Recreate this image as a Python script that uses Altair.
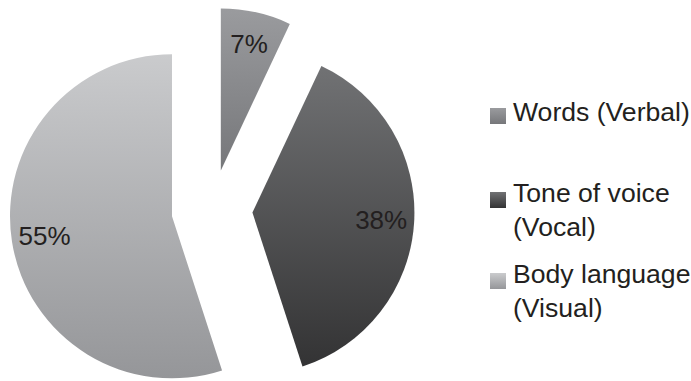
import altair as alt
import pandas as pd

# ---- data ----
names = ["Words (Verbal)", "Tone of voice (Vocal)", "Body language (Visual)"]
legend_labels = ["Words (Verbal)", "Tone of voice\n(Vocal)", "Body language\n(Visual)"]
values = [7, 38, 55]

df = pd.DataFrame({
    "idx": list(range(len(names))),
    "name": names,
    "legend": legend_labels,
    "value": values,
})

# ---- layout / style constants ----
W, H = 691, 381
CX, CY = 212, 210      # centre of the un-exploded pie
EXPLODE = 40.5         # explosion offset of every slice
R = 162                # pie radius
LABEL_R = 129          # label distance from slice apex
FONT = "Liberation Sans"
TEXT_COLOR = "#231f20"
LEG_X_SQ = 498
LEG_X_TXT = 513
LEG_TOP = 121
LEG_STEP = 81


def grad(top, bottom):
    return {
        "gradient": "linear",
        "x1": 0, "y1": 0, "x2": 0, "y2": 1,
        "stops": [{"offset": 0, "color": top}, {"offset": 1, "color": bottom}],
    }


g_words = grad("#9a9b9e", "#76777a")
g_tone = grad("#717274", "#333334")
g_body = grad("#cacbcd", "#959699")

fill_cond = (
    alt.when(alt.datum.idx == 0).then(alt.value(g_words))
    .when(alt.datum.idx == 1).then(alt.value(g_tone))
    .otherwise(alt.value(g_body))
)

base = (
    alt.Chart(df)
    .transform_window(cum="sum(value)", sort=[alt.SortField("idx")], frame=[None, 0])
    .transform_joinaggregate(total="sum(value)")
    .transform_calculate(
        t1="datum.cum / datum.total * 2 * PI",
        t0="(datum.cum - datum.value) / datum.total * 2 * PI",
    )
    .transform_calculate(mid="(datum.t0 + datum.t1) / 2")
    .transform_calculate(
        cx=f"{CX} + {EXPLODE} * sin(datum.mid)",
        cy=f"{CY} - {EXPLODE} * cos(datum.mid)",
    )
    .transform_calculate(
        lx=f"datum.cx + {LABEL_R} * sin(datum.mid)",
        ly=f"datum.cy - {LABEL_R} * cos(datum.mid)",
        pct="format(datum.value, 'd') + '%'",
        legy=f"{LEG_TOP} + {LEG_STEP} * datum.idx",
        sqy=f"{LEG_TOP} - 5 + {LEG_STEP} * datum.idx + (datum.idx > 0 ? 3 : 0)",
    )
)

arcs = base.mark_arc(radius=R, stroke=None).encode(
    x=alt.X("cx:Q", scale=None),
    y=alt.Y("cy:Q", scale=None),
    theta=alt.Theta("t0:Q", scale=None),
    theta2=alt.Theta2("t1:Q"),
    fill=fill_cond,
)

labels = base.mark_text(font=FONT, fontSize=26, color=TEXT_COLOR,
                        align="center", baseline="middle").encode(
    x=alt.X("lx:Q", scale=None),
    y=alt.Y("ly:Q", scale=None),
    text="pct:N",
)

leg_sq = base.mark_square(size=256, filled=True, opacity=1).encode(
    x=alt.value(LEG_X_SQ),
    y=alt.Y("sqy:Q", scale=None),
    fill=fill_cond,
)

leg_txt = base.mark_text(font=FONT, fontSize=26.6, color=TEXT_COLOR, align="left",
                         baseline="alphabetic", lineBreak="\n", lineHeight=34).encode(
    x=alt.value(LEG_X_TXT),
    y=alt.Y("legy:Q", scale=None),
    text="legend:N",
)

chart = (
    alt.layer(arcs, labels, leg_sq, leg_txt)
    .properties(width=W, height=H, autosize=alt.AutoSizeParams(type="none"), padding=0,
                background="white")
    .configure_view(stroke=None)
)

chart.save("out.html", embed_options={"renderer": "svg", "actions": False})
